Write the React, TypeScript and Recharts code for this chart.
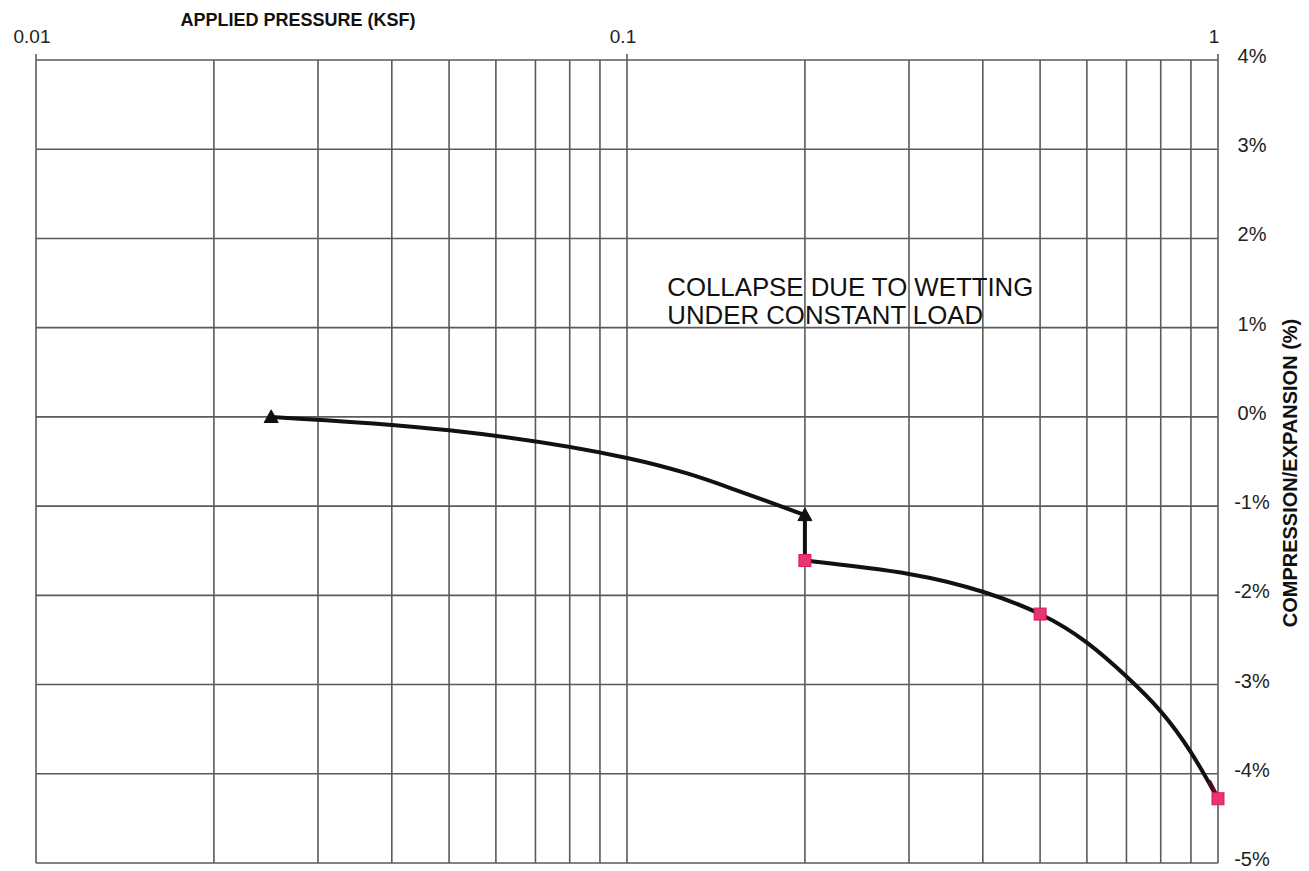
import React from "react";
import { LineChart, Line, XAxis, YAxis, CartesianGrid, ReferenceDot } from "recharts";

const xTicks = [0.01, 0.02, 0.03, 0.04, 0.05, 0.06, 0.07, 0.08, 0.09, 0.1, 0.2, 0.3, 0.4, 0.5, 0.6, 0.7, 0.8, 0.9, 1];
const xLabelTicks = [0.01, 0.1, 1];
const yTicks = [-5, -4, -3, -2, -1, 0, 1, 2, 3, 4];

// Initial loading (dry) curve – triangle markers at the measured points
const dryPressure = [0.025, 0.05, 0.1, 0.15, 0.2];
const dryStrain = [0, -0.15, -0.46, -0.8, -1.1];
const dryMarked = [true, false, false, false, true];

// Collapse upon wetting at constant load
const collapsePressure = [0.2, 0.2];
const collapseStrain = [-1.61, -1.1];

// Wetted loading curve – square markers
const wetPressure = [0.2, 0.3, 0.4, 0.5, 0.6, 0.7, 0.8, 0.9, 1.0];
const wetStrain = [-1.61, -1.76, -1.96, -2.21, -2.53, -2.91, -3.3, -3.76, -4.28];
const wetMarked = [true, false, false, true, false, false, false, false, true];

// last segment shown in dark maroon
const tailPressure = [0.965, 1.0];
const tailStrain = [-4.08, -4.28];

const dryData = dryPressure.map((p, i) => ({ p, v: dryStrain[i], m: dryMarked[i] }));
const collapseData = collapsePressure.map((p, i) => ({ p, v: collapseStrain[i] }));
const wetData = wetPressure.map((p, i) => ({ p, v: wetStrain[i], m: wetMarked[i] }));
const tailData = tailPressure.map((p, i) => ({ p, v: tailStrain[i] }));

const FONT = "'Liberation Sans', Arial, sans-serif";

const TriangleDot = (props: any) => {
  const { cx, cy, payload, index } = props;
  if (!payload || !payload.m) return <g key={`t${index}`} />;
  const s = 7;
  return (
    <polygon
      key={`t${index}`}
      points={`${cx},${cy - s} ${cx - s},${cy + s * 0.8} ${cx + s},${cy + s * 0.8}`}
      fill="#111"
      stroke="#111"
      strokeWidth={1}
    />
  );
};

const SquareDot = (props: any) => {
  const { cx, cy, payload, index } = props;
  if (!payload || !payload.m) return <g key={`s${index}`} />;
  const s = 6;
  return (
    <rect
      key={`s${index}`}
      x={cx - s}
      y={cy - s}
      width={2 * s}
      height={2 * s}
      fill="#e8356f"
      stroke="#d81b5a"
      strokeWidth={1}
    />
  );
};

const XTick = (props: any) => {
  const { x, y, payload } = props;
  if (!xLabelTicks.includes(payload.value)) return <g />;
  return (
    <g>
      <line x1={x} y1={y + 8} x2={x} y2={y + 2} stroke="#555" strokeWidth={1.5} />
      <text x={x - 4} y={y - 9} textAnchor="middle" fontFamily={FONT} fontSize={19} fill="#222">
        {String(payload.value)}
      </text>
    </g>
  );
};

const YTick = (props: any) => {
  const { x, y, payload } = props;
  return (
    <text x={x + 26} y={y + 3} textAnchor="middle" fontFamily={FONT} fontSize={20} fill="#222">
      {`${payload.value}%`}
    </text>
  );
};

const AnnotationShape = (props: any) => {
  const { cx, cy } = props;
  return (
    <text x={cx} y={cy} fontFamily={FONT} fontSize={25.8} fill="#111">
      <tspan x={cx} dy={0}>COLLAPSE DUE TO WETTING</tspan>
      <tspan x={cx} dy={28}>UNDER CONSTANT LOAD</tspan>
    </text>
  );
};

export default function App() {
  return (
    <div style={{ position: "absolute", left: 0, top: 0, width: 1309, height: 871, background: "#fff" }}>
      <LineChart width={1309} height={871} margin={{ top: 0, right: 0, bottom: 8, left: 36 }}>
        <CartesianGrid stroke="#5a5a5a" strokeWidth={1.6} />
        <XAxis
          dataKey="p"
          type="number"
          scale="log"
          domain={[0.01, 1]}
          ticks={xTicks}
          orientation="top"
          height={60}
          axisLine={false}
          tickLine={false}
          tick={<XTick />}
          interval={0}
          label={{
            content: () => (
              <text x={298} y={26} textAnchor="middle" fontFamily={FONT} fontWeight="bold" fontSize={18} fill="#111">
                APPLIED PRESSURE (KSF)
              </text>
            ),
          }}
        />
        <YAxis
          type="number"
          domain={[-5, 4]}
          ticks={yTicks}
          orientation="right"
          width={91}
          axisLine={false}
          tickLine={false}
          tick={<YTick />}
          interval={0}
          label={{
            content: () => (
              <text
                x={1297}
                y={473}
                textAnchor="middle"
                transform="rotate(-90 1297 473)"
                fontFamily={FONT}
                fontWeight="bold"
                fontSize={20}
                fill="#111"
              >
                COMPRESSION/EXPANSION (%)
              </text>
            ),
          }}
        />
        <Line
          data={dryData}
          dataKey="v"
          type="natural"
          stroke="#111"
          strokeWidth={4}
          dot={<TriangleDot />}
          activeDot={false}
          isAnimationActive={false}
        />
        <Line
          data={collapseData}
          dataKey="v"
          type="linear"
          stroke="#111"
          strokeWidth={4}
          dot={false}
          activeDot={false}
          isAnimationActive={false}
        />
        <Line
          data={wetData}
          dataKey="v"
          type="natural"
          stroke="#111"
          strokeWidth={4}
          dot={<SquareDot />}
          activeDot={false}
          isAnimationActive={false}
        />
        <Line
          data={tailData}
          dataKey="v"
          type="linear"
          stroke="#4a0b1c"
          strokeWidth={4.5}
          dot={false}
          activeDot={false}
          isAnimationActive={false}
        />
        <ReferenceDot x={0.117} y={1.36} r={0} shape={<AnnotationShape />} ifOverflow="visible" />
      </LineChart>
    </div>
  );
}
